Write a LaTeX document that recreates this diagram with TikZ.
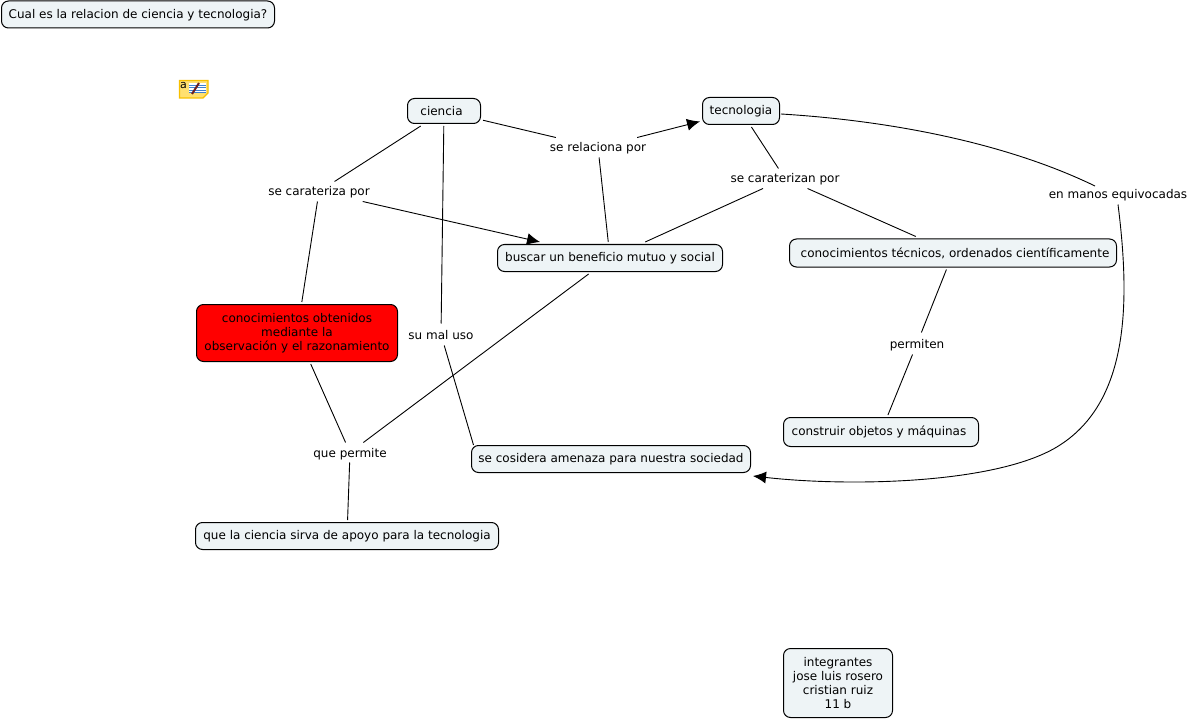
\documentclass[tikz,border=0pt]{standalone}
\usepackage{fontspec}
\setmainfont{DejaVu Sans}
\usetikzlibrary{arrows.meta}
\definecolor{boxfill}{HTML}{EEF4F6}
\definecolor{notefill}{HTML}{FFE070}
\definecolor{noteedge}{HTML}{F8C000}
\definecolor{notelines}{HTML}{3F7FD0}
\definecolor{notepen}{HTML}{6E1F1F}
\tikzset{
  concept/.style={draw=black,line width=1pt,rounded corners=7pt,fill=boxfill,align=center,inner sep=0pt,font=\fontsize{12}{14.2}\selectfont,text=black,outer sep=2.5pt},
  linker/.style={align=center,inner sep=0pt,font=\fontsize{12}{14.2}\selectfont,text=black,outer sep=0pt,text height=11pt,text depth=2pt},
  link/.style={draw=black,line width=0.9pt},
  tipped/.style={link,-{Latex[length=13pt,width=12pt]}}
}
\begin{document}
\begin{tikzpicture}[x=1pt,y=-1pt]
\useasboundingbox (0,0) rectangle (1190,719);
\node[concept,text height=11pt,text depth=2pt,minimum width=273pt,minimum height=27pt] (q) at (138,14.5) {Cual es la relacion de ciencia y tecnologia?};
\node[concept,minimum width=73pt,minimum height=25pt] (ci) at (444,111) {ciencia\hspace{5pt}};
\node[concept,minimum width=77pt,minimum height=27pt] (te) at (741,111) {tecnologia};
\node[concept,minimum width=225pt,minimum height=27pt] (bu) at (610,258) {buscar un beneficio mutuo y social};
\node[concept,minimum width=327pt,minimum height=28pt] (ct) at (953,253) {\hspace{4pt}conocimientos técnicos, ordenados científicamente};
\node[concept,fill=red,minimum width=201pt,minimum height=57pt] (ob) at (297,333) {conocimientos obtenidos\\mediante la\\observación y el razonamiento};
\node[concept,minimum width=195pt,minimum height=29pt] (co) at (881,432) {construir objetos y máquinas\hspace{4pt}};
\node[concept,minimum width=279pt,minimum height=27pt] (am) at (611,459) {se cosidera amenaza para nuestra sociedad};
\node[concept,minimum width=303pt,minimum height=27pt] (ap) at (347,536) {que la ciencia sirva de apoyo para la tecnologia};
\node[concept,minimum width=109pt,minimum height=69pt] (in) at (838,683) {integrantes\\jose luis rosero\\cristian ruiz\\11 b};
\node[linker,minimum width=104pt,minimum height=20pt] (l1) at (319,191.5) {se carateriza por};
\node[linker,minimum width=106pt,minimum height=20pt] (l2) at (598,147.5) {se relaciona por};
\node[linker,minimum width=116pt,minimum height=20pt] (l3) at (785,178.5) {se caraterizan por};
\node[linker,minimum width=146pt,minimum height=20pt] (l4) at (1118,194.5) {en manos equivocadas};
\node[linker,minimum width=60pt,minimum height=22pt] (l5) at (917,343.5) {permiten};
\node[linker,minimum width=72pt,minimum height=22pt] (l6) at (441,334.5) {su mal uso};
\node[linker,minimum width=80pt,minimum height=20pt] (l7) at (350,452.5) {que permite};
\coordinate (amin) at (473.5,445);
\coordinate (amout) at (753,476);
\coordinate (l4top) at (1095,186);
\coordinate (teout) at (781,114);
\draw[link] (ci) -- (l1);
\draw[link] (l1) -- (ob);
\draw[tipped] (l1) -- (bu);
\draw[link] (ci) -- (l2);
\draw[tipped] (l2) -- (te);
\draw[link] (l2) -- (bu);
\draw[link] (te) -- (l3);
\draw[link] (bu) -- (l3);
\draw[link] (l3) -- (ct);
\draw[link] (ct) -- (l5);
\draw[link] (l5) -- (co);
\draw[link] (ci) -- (l6);
\draw[link] (l6) -- (amin);
\draw[link] (bu) -- (l7);
\draw[link] (ob) -- (l7);
\draw[link] (l7) -- (ap);
\draw[link] (teout) .. controls (880,120) and (1000,140) .. (l4top);
\draw[tipped] (l4.south) .. controls (1130,300) and (1130,400) .. (1060,445) .. controls (1000,484) and (850,487) .. (amout);
% note icon
\fill[notefill,draw=noteedge,line width=1.2pt] (179.5,80.5) -- (208,80.5) -- (208,93) -- (203,98) -- (179.5,98) -- cycle;
\fill[white] (189,83) rectangle (206,93);
\foreach \ly in {85,87.5,90,92.5}{\draw[notelines,line width=0.9pt] (189,\ly) -- (206,\ly);}
\draw[notepen,line width=2pt] (192,94) -- (199,83);
\node[inner sep=0pt,font=\fontsize{11}{11}\selectfont,text=black] (notea) at (183.5,86) {a};
\end{tikzpicture}
\end{document}
